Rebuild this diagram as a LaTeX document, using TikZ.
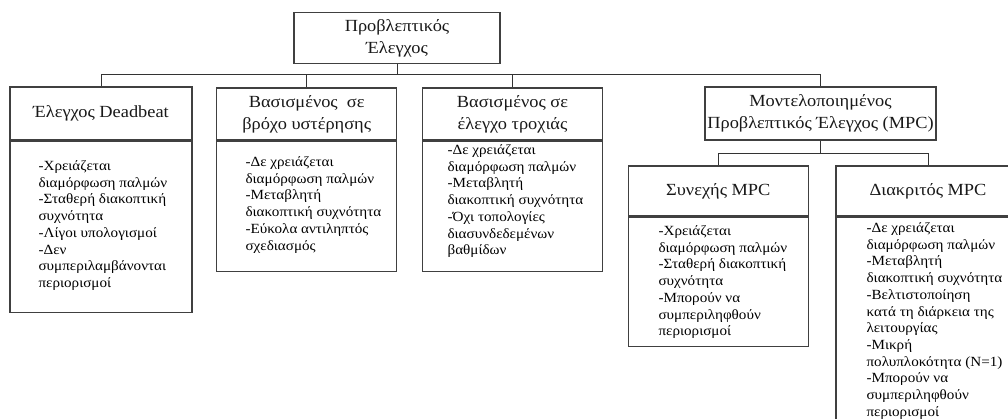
\documentclass[tikz,border=0pt]{standalone}
\usepackage{fontspec}
\setmainfont{Liberation Serif}
\newfontfamily\widefont[FakeStretch=1.08]{Liberation Serif}
\begin{document}
\begin{tikzpicture}[x=1pt,y=-1pt,
  line width=1.1pt,
  framecol/.style={draw=black!75},
  headbox/.style={framecol, rectangle, inner sep=0pt, align=center,
    font=\widefont\fontsize{17}{22}\selectfont, text=black!90},
  bodybox/.style={framecol, rectangle, inner sep=0pt, anchor=north},
  bodytext/.style={anchor=north west, inner sep=0pt, align=left,
    font=\widefont\fontsize{14}{16.7}\selectfont},
  link/.style={draw=black!80, line width=1pt}]
\useasboundingbox (0,0) rectangle (1008,419);
\clip (0,0) rectangle (1008,419);
\fill[white] (0,0) rectangle (1008,419);

% root
\node[headbox, minimum width=206pt, minimum height=51pt] (root) at (397,38)
  {Προβλεπτικός\\Έλεγχος};

% first level
\node[headbox, minimum width=182pt, minimum height=53pt] (dead) at (101,113.5)
  {Έλεγχος Deadbeat};
\node[bodybox, minimum width=182pt, minimum height=171pt] (deadB) at (dead.south) {};
\node[bodytext] (deadT) at (38,158)
  {\rule{0pt}{12pt}-Χρειάζεται\\διαμόρφωση παλμών\\-Σταθερή διακοπτική\\συχνότητα\\-Λίγοι υπολογισμοί\\-Δεν\\συμπεριλαμβάνονται\\περιορισμοί};

\node[headbox, minimum width=180pt, minimum height=52pt] (hyst) at (306.7,114)
  {Βασισμένος~ σε\\βρόχο υστέρησης};
\node[bodybox, minimum width=180pt, minimum height=130pt] (hystB) at (hyst.south) {};
\node[bodytext] (hystT) at (245,154)
  {\rule{0pt}{12pt}-Δε χρειάζεται\\διαμόρφωση παλμών\\-Μεταβλητή\\διακοπτική συχνότητα\\-Εύκολα αντιληπτός\\σχεδιασμός};

\node[headbox, minimum width=180.4pt, minimum height=52pt] (traj) at (512.5,114)
  {Βασισμένος σε\\έλεγχο τροχιάς};
\node[bodybox, minimum width=180.4pt, minimum height=130pt] (trajB) at (traj.south) {};
\node[bodytext] (trajT) at (447,142)
  {\rule{0pt}{12pt}-Δε χρειάζεται\\διαμόρφωση παλμών\\-Μεταβλητή\\διακοπτική συχνότητα\\-Όχι τοπολογίες\\διασυνδεδεμένων\\βαθμίδων};

\node[headbox, minimum width=231pt, minimum height=53pt] (mpc) at (820.5,113.5)
  {Μοντελοποιημένος\\Προβλεπτικός Έλεγχος (MPC)};

% second level under MPC
\node[headbox, minimum width=180pt, minimum height=50pt] (cont) at (718.3,191)
  {Συνεχής MPC};
\node[bodybox, minimum width=180pt, minimum height=129pt] (contB) at (cont.south) {};
\node[bodytext] (contT) at (658,223)
  {\rule{0pt}{12pt}-Χρειάζεται\\διαμόρφωση παλμών\\-Σταθερή διακοπτική\\συχνότητα\\-Μπορούν να\\συμπεριληφθούν\\περιορισμοί};

\node[headbox, minimum width=184pt, minimum height=50pt] (disc) at (928,191)
  {Διακριτός MPC};
\node[bodybox, minimum width=184pt, minimum height=230pt] (discB) at (disc.south) {};
\node[bodytext] (discT) at (866,220)
  {\rule{0pt}{12pt}-Δε χρειάζεται\\διαμόρφωση παλμών\\-Μεταβλητή\\διακοπτική συχνότητα\\-Βελτιστοποίηση\\κατά τη διάρκεια της\\λειτουργίας\\-Μικρή\\πολυπλοκότητα (N=1)\\-Μπορούν να\\συμπεριληφθούν\\περιορισμοί};

% connectors
\coordinate (busA) at (0,75);
\coordinate (busB) at (0,154);
\foreach \child in {dead,hyst,traj,mpc}
  \draw[link] (root.south) -- (root.south |- busA) -| (\child.north);
\foreach \child in {cont,disc}
  \draw[link] (mpc.south) -- (mpc.south |- busB) -| (\child.north);
\end{tikzpicture}
\end{document}
